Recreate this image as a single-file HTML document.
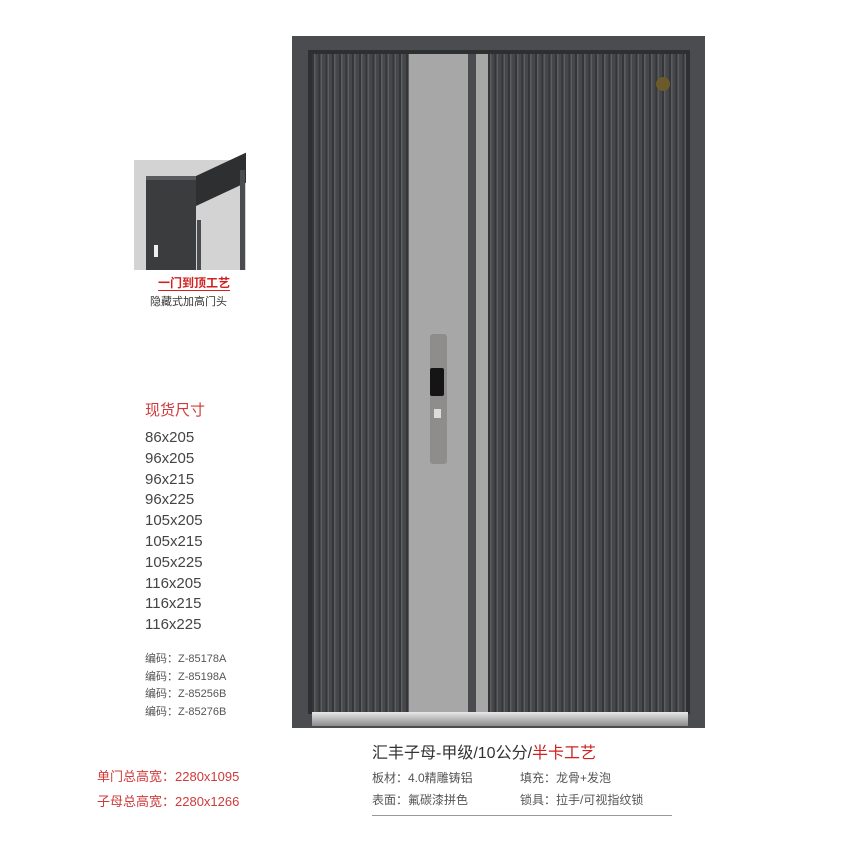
<!DOCTYPE html>
<html><head><meta charset="utf-8"><style>
body{margin:0;width:860px;height:860px;background:#fff;position:relative;overflow:hidden;font-family:"Liberation Sans","Noto Sans CJK SC",sans-serif}
.a{position:absolute}
.str{background:repeating-linear-gradient(90deg,#353638 0,#353638 2px,#5c5d61 2px,#5c5d61 3.5px,#46474a 3.5px,#46474a 6.7px)}
.t{position:absolute;white-space:nowrap}
</style></head><body>
<div class="a" style="left:292px;top:36px;width:413px;height:692px;background:#4b4c4f"></div>
<div class="a" style="left:308px;top:50px;width:382px;height:664px;background:#2e2f31"></div>
<div class="a str" style="left:312px;top:54px;width:97px;height:658px"></div>
<div class="a" style="left:409px;top:54px;width:59px;height:658px;background:#a6a7a6"></div>
<div class="a" style="left:468px;top:54px;width:8px;height:658px;background:#4a4b4e"></div>
<div class="a" style="left:476px;top:54px;width:12px;height:658px;background:#a6a7a6"></div>
<div class="a str" style="left:488px;top:54px;width:198px;height:658px"></div>
<div class="a" style="left:312px;top:712px;width:376px;height:14px;background:linear-gradient(#e8e8e8,#b9b9b9,#8c8c8c)"></div>
<div class="a" style="left:656px;top:77px;width:14px;height:14px;border-radius:50%;background:#6b5a2c"></div>
<div class="a" style="left:430px;top:334px;width:17px;height:130px;background:#8e8d8b;border-radius:3px"></div>
<div class="a" style="left:430px;top:368px;width:14px;height:28px;background:#151515;border-radius:2px"></div>
<div class="a" style="left:434px;top:409px;width:7px;height:9px;background:#dcdcdc"></div>
<div class="a" style="left:134px;top:160px;width:112px;height:110px;background:#d3d3d3"></div>
<div class="a" style="left:146px;top:176px;width:50px;height:94px;background:#3b3c3e"></div>
<div class="a" style="left:146px;top:176px;width:50px;height:4px;background:#5a5b5e"></div>
<div class="a" style="left:196px;top:176px;width:50px;height:30px;background:#2e2f31;transform:skewY(-25deg);transform-origin:left top"></div>
<div class="a" style="left:197px;top:220px;width:4px;height:50px;background:#4b4c4f"></div>
<div class="a" style="left:240px;top:170px;width:5px;height:100px;background:#4b4c4f"></div>
<div class="a" style="left:154px;top:245px;width:4px;height:12px;background:#eee"></div>
<div class="t" style="left:158px;top:276px;font-size:12px;color:#d02020;font-weight:bold;border-bottom:1px solid #d02020;line-height:14px">一门到顶工艺</div>
<div class="t" style="left:150px;top:293px;font-size:11px;color:#333">隐藏式加高门头</div>
<div class="t" style="left:145px;top:399px;font-size:15px;color:#d03a3a">现货尺寸</div>
<div class="t" style="left:145px;top:428px;font-size:15px;color:#444;line-height:20.8px">86x205<br>96x205<br>96x215<br>96x225<br>105x205<br>105x215<br>105x225<br>116x205<br>116x215<br>116x225</div>
<div class="t" style="left:145px;top:651px;font-size:11px;color:#555;line-height:17.5px">编码：Z-85178A<br>编码：Z-85198A<br>编码：Z-85256B<br>编码：Z-85276B</div>
<div class="t" style="left:97px;top:764px;font-size:13px;color:#d03a3a;line-height:25px">单门总高宽：2280x1095<br>子母总高宽：2280x1266</div>
<div class="t" style="left:372px;top:739px;font-size:16px;color:#333">汇丰子母-甲级/10公分/<span style="color:#d02020">半卡工艺</span></div>
<div class="t" style="left:372px;top:767px;font-size:12px;color:#555;line-height:22px">板材：4.0精雕铸铝<br>表面：氟碳漆拼色</div>
<div class="t" style="left:520px;top:767px;font-size:12px;color:#555;line-height:22px">填充：龙骨+发泡<br>锁具：拉手/可视指纹锁</div>
<div class="a" style="left:372px;top:815px;width:300px;height:1px;background:#999"></div>
</body></html>
